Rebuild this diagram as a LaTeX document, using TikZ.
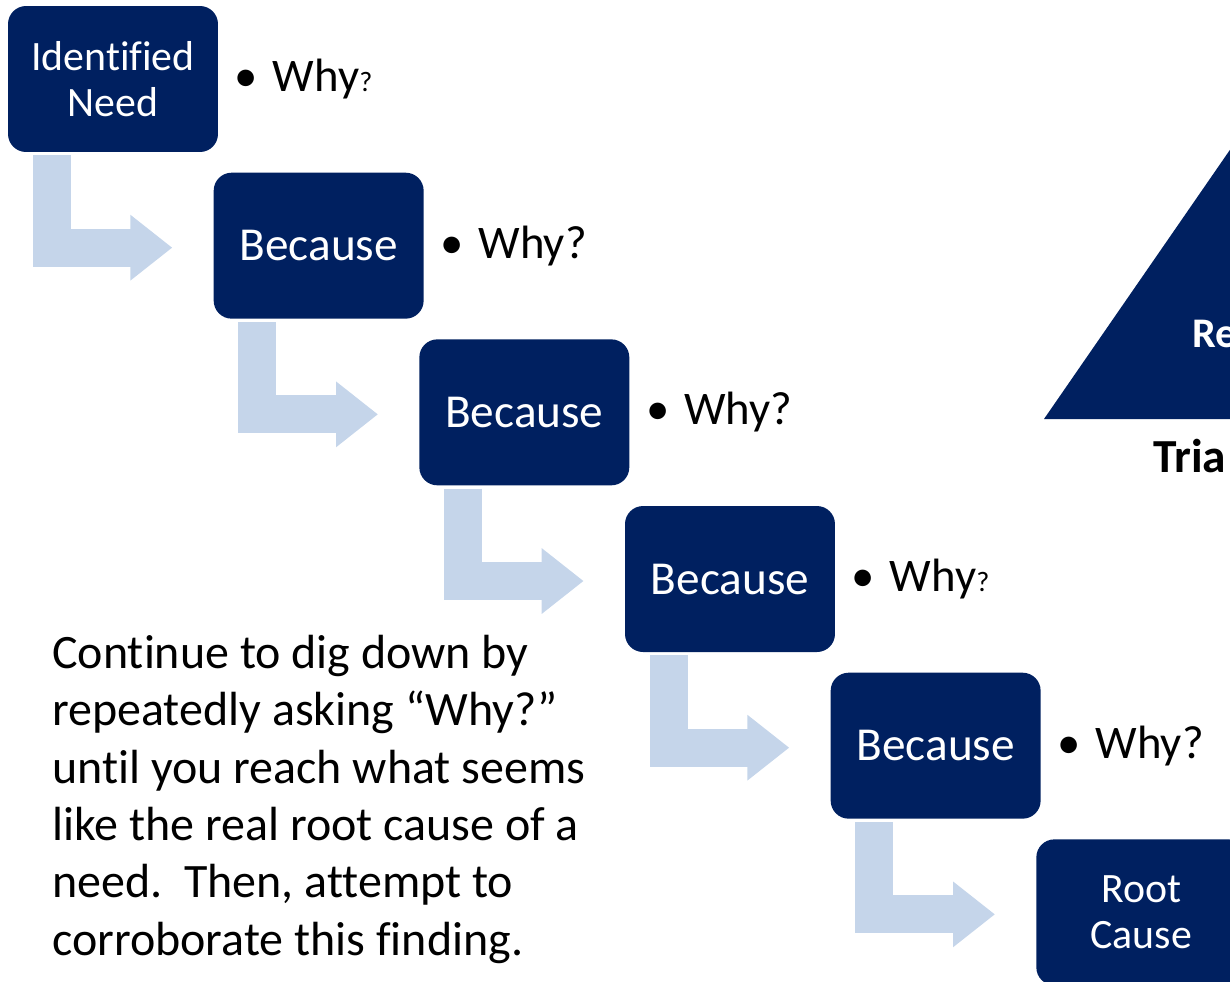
\documentclass[tikz,border=0pt]{standalone}
\usepackage{fontspec}
\setmainfont{Carlito}[Ligatures=NoCommon]
\usetikzlibrary{positioning,arrows.meta,calc}
\definecolor{navy}{HTML}{002060}
\definecolor{paleblue}{HTML}{C5D5EA}

\begin{document}
\begin{tikzpicture}[
    x=0.02cm, y=-0.02cm,
    node distance=0.4cm and -0.1cm,
    stage/.style={rectangle, fill=navy, rounded corners=0.36cm, text=white, align=center,
                  minimum width=4.2cm, minimum height=2.92cm, inner sep=0pt,
                  font=\fontsize{26.9}{30}\selectfont},
    twoline/.style={font=\fontsize{23.8}{26.6}\selectfont},
    why/.style={inner sep=0pt, font=\fontsize{26.6}{30}\selectfont},
    bent/.style={-{Triangle[length=0.84cm, width=1.26cm]}, line width=0.76cm, paleblue},
  ]
    \useasboundingbox (0,0) rectangle (1230,981);
    \clip (0,0) rectangle (1230,981);

    \node[stage, twoline] (need) at (113,79) {Identified\\Need};
    \node[stage, below right=of need] (b1) {Because};
    \node[stage, below right=of b1] (b2) {Because};
    \node[stage, below right=of b2] (b3) {Because};
    \node[stage, below right=of b3] (b4) {Because};
    \node[stage, twoline, below right=of b4] (root) {Root\\Cause};

    \node[why, right=0.32cm of need] (w0) {•\hspace{0.3cm}Why{\fontsize{16}{18}\selectfont ?}};
    \node[why, right=0.32cm of b1] (w1) {•\hspace{0.3cm}Why?};
    \node[why, right=0.32cm of b2] (w2) {•\hspace{0.3cm}Why?};
    \node[why, right=0.32cm of b3] (w3) {•\hspace{0.3cm}Why{\fontsize{16}{18}\selectfont ?}};
    \node[why, right=0.32cm of b4] (w4) {•\hspace{0.3cm}Why?};

    \draw[bent] ($(need.south west)+(44,3)$) |- ($(b1.west)+(-41,2)$);
    \draw[bent] ($(b1.south west)+(44,3)$) |- ($(b2.west)+(-41,2)$);
    \draw[bent] ($(b2.south west)+(44,3)$) |- ($(b3.west)+(-41,2)$);
    \draw[bent] ($(b3.south west)+(44,3)$) |- ($(b4.west)+(-41,2)$);
    \draw[bent] ($(b4.south west)+(44,3)$) |- ($(root.west)+(-41,2)$);

    \node[anchor=north west, align=left, inner sep=0pt, font=\fontsize{27.3}{32.6}\selectfont] (note) at (52,635)
      {Continue to dig down by\\repeatedly asking “Why?”\\until you reach what seems\\like the real root cause of a\\need.\ \ Then, attempt to\\corroborate this finding.};

    % triangle on the right, cut by the slide edge
    \fill[navy] (1044,419) -- (1330,5) -- (1616,419) -- cycle;
    \node[anchor=base west, inner sep=0pt, text=white, font=\fontsize{24}{28}\selectfont\bfseries] (re) at (1192,347) {Re};
    \node[anchor=base west, inner sep=0pt, font=\fontsize{27}{30}\selectfont\bfseries] (tria) at (1153,472) {Tria};
\end{tikzpicture}
\end{document}
